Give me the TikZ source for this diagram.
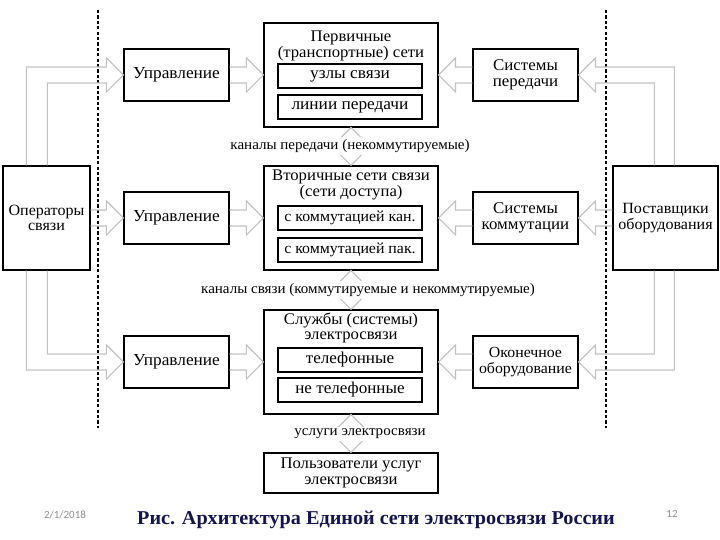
\documentclass[tikz,border=0pt]{standalone}
\usepackage{fontspec}
\setmainfont{Liberation Serif}[FakeStretch=1.03]
\newfontfamily\datefont{Carlito}
\usetikzlibrary{calc,positioning}
\definecolor{hell}{HTML}{C2C2C2}
\definecolor{navy}{HTML}{14144E}
\definecolor{grau}{HTML}{8C8C8C}
\newcommand{\rarr}[2]{\draw[blk] ($(#1.east)+(0,-8)$) -- ($(#2.west)+(-17,-8)$) -- ++(0,-9) -- (#2.west) -- ++(-17,17) -- ++(0,-9) -- ($(#1.east)+(0,8)$);}
\newcommand{\larr}[2]{\draw[blk] ($(#1.west)+(0,-8)$) -- ($(#2.east)+(17,-8)$) -- ++(0,-9) -- (#2.east) -- ++(17,17) -- ++(0,-9) -- ($(#1.west)+(0,8)$);}
\newcommand{\varr}[2]{\draw[blk,fill=white] (#1.south) -- ++(17,17) -- ++(-9,0) -- ($(#2.north)+(8,-17)$) -- ++(9,0) -- (#2.north) -- ++(-17,-17) -- ++(9,0) -- ($(#1.south)+(-8,17)$) -- ++(-9,0) -- cycle;}
\newcommand{\fs}[1]{\fontsize{#1}{7.9}\selectfont}

\begin{document}
\begin{tikzpicture}[x=0.5pt,y=-0.5pt,
  box/.style={draw,line width=0.6pt,align=center,inner sep=0pt,font=\fs{8.1}},
  side/.style={box,minimum width=52.5pt,minimum height=26pt,font=\fs{8.4}},
  big/.style={box,minimum width=87pt,minimum height=52pt},
  inner/.style={box,minimum width=72pt,minimum height=12pt,font=\fs{7.7}},
  ttl/.style={align=center,inner sep=0pt,font=\fs{8.1}},
  lab/.style={fill=white,inner sep=1pt,font=\fs{7.3}},
  blk/.style={hell,line width=0.6pt},
  grenze/.style={line width=0.6pt,dash pattern=on 1.6pt off 1.1pt}]
  \useasboundingbox (0,0) rectangle (720,540);
  \draw[grenze] (98,10) -- (98,428);
  \draw[grenze] (606,10) -- (606,428);
  \node[box,minimum width=43.5pt,minimum height=52pt,font=\fs{7.8}] (op) at (46.5,218) {Операторы\\связи};
  \node[box,minimum width=52.5pt,minimum height=52pt,font=\fs{7.8}] (sup) at (665.5,218) {Поставщики\\оборудования};
  \node[side] (upr1) at (176.5,75) {Управление};
  \node[side] (upr2) at (176.5,218) {Управление};
  \node[side] (upr3) at (176.5,362) {Управление};
  \node[side,font=\fs{8.2}] (sys1) at (525.5,75) {Системы\\передачи};
  \node[side,font=\fs{8.2}] (sys2) at (525.5,218) {Системы\\коммутации};
  \node[side,font=\fs{7.7}] (sys3) at (525.5,362) {Оконечное\\оборудование};
  \node[big] (prim) at (351,75) {};
  \node[big] (sec) at (351,218) {};
  \node[big] (serv) at (351,362) {};
  \node[box,minimum width=87pt,minimum height=20pt] (usr) at (351,473) {Пользователи услуг\\электросвязи};
  \node[ttl] (prim-t) at (351,46) {Первичные\\(транспортные) сети};
  \node[ttl] (sec-t) at (351,185) {Вторичные сети связи\\(сети доступа)};
  \node[ttl] (serv-t) at (351,328) {Службы (системы)\\электросвязи};
  \node[inner,font=\fs{8.4}] (uzly) at (350,76) {узлы связи};
  \node[inner,font=\fs{8.4}] (linii) at (350,107) {линии передачи};
  \node[inner] (kan) at (350,218) {с коммутацией кан.};
  \node[inner] (pak) at (350,250) {с коммутацией пак.};
  \node[inner,font=\fs{8.3}] (tel) at (350,360) {телефонные};
  \node[inner,font=\fs{8.3}] (netel) at (350,390) {не телефонные};
  \rarr{upr1}{prim}
  \rarr{upr2}{sec}
  \rarr{upr3}{serv}
  \larr{sys1}{prim}
  \larr{sys2}{sec}
  \larr{sys3}{serv}
  \rarr{op}{upr2}
  \larr{sup}{sys2}
  \draw[blk] ($(op.north west)+(24,0)$) |- ($(upr1.west)+(-17,-8)$) -- ++(0,-9) -- (upr1.west) -- ++(-17,17) -- ++(0,-9) -| ($(op.north west)+(45,0)$);
  \draw[blk] ($(op.south west)+(45,0)$) |- ($(upr3.west)+(-17,-8)$) -- ++(0,-9) -- (upr3.west) -- ++(-17,17) -- ++(0,-9) -| ($(op.south west)+(24,0)$);
  \draw[blk] ($(sup.north west)+(62,0)$) |- ($(sys1.east)+(17,-8)$) -- ++(0,-9) -- (sys1.east) -- ++(17,17) -- ++(0,-9) -| ($(sup.north west)+(42,0)$);
  \draw[blk] ($(sup.south west)+(42,0)$) |- ($(sys3.east)+(17,-8)$) -- ++(0,-9) -- (sys3.east) -- ++(17,17) -- ++(0,-9) -| ($(sup.south west)+(62,0)$);
  \varr{prim}{sec}
  \varr{sec}{serv}
  \varr{serv}{usr}
  \node[lab] (lab1) at (350,146) {каналы передачи (некоммутируемые)};
  \node[lab] (lab2) at (368,290) {каналы связи (коммутируемые и некоммутируемые)};
  \node[lab] (lab3) at (360,434) {услуги электросвязи};
  \node[grau,font=\datefont\fontsize{5.5}{6}\selectfont] (datum) at (65,515) {2/1/2018};
  \node[grau,font=\datefont\fontsize{5.5}{6}\selectfont] (seite) at (672,514) {12};
  \node[navy,font=\bfseries\fontsize{9.8}{10.5}\selectfont] (titel) at (376,520) {Рис. Архитектура Единой сети электросвязи России};
\end{tikzpicture}
\end{document}
